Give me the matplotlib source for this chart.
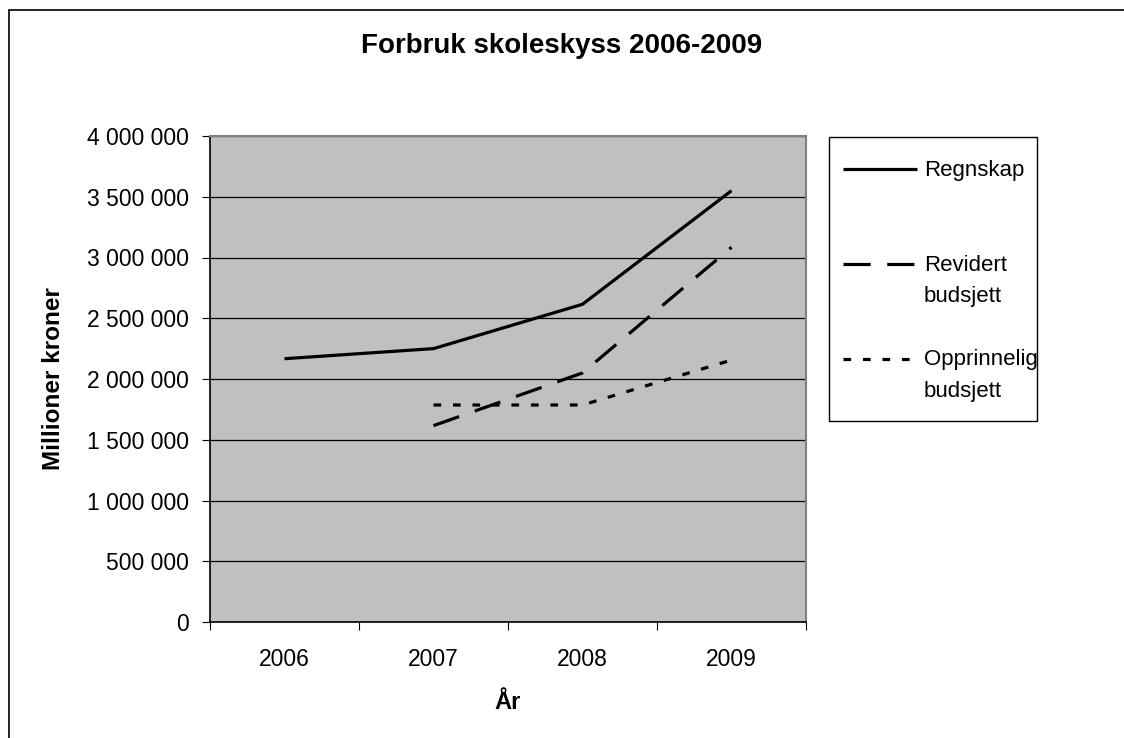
import matplotlib
matplotlib.use("Agg")
import matplotlib.pyplot as plt
from matplotlib.patches import Rectangle
from matplotlib.ticker import FuncFormatter, FixedLocator

plt.rcParams['font.family'] = ['Liberation Sans', 'DejaVu Sans']

# data
years = ['2006', '2007', '2008', '2009']
regnskap = [2167000, 2250000, 2615000, 3550000]
revidert = [None, 1616000, 2050000, 3084000]
opprinnelig = [None, 1786000, 1786000, 2156000]
labels = ['Regnskap\n', 'Revidert\nbudsjett', 'Opprinnelig\nbudsjett']


def thousands(v, pos):
    return f'{int(v):,}'.replace(',', ' ')


def pts(vals):
    xs = [i for i, v in enumerate(vals) if v is not None]
    ys = [v for v in vals if v is not None]
    return xs, ys


W, H = 1124, 738
fig = plt.figure(figsize=(W / 100, H / 100), dpi=100)
ax = fig.add_axes([210 / W, 1 - 622 / H, 596 / W, 486 / H])
ax.set_facecolor('#c0c0c0')

lw = 2.3
l1, = ax.plot(*pts(regnskap), color='black', lw=lw, solid_capstyle='butt')
l2, = ax.plot(*pts(revidert), color='black', lw=lw, dashes=(8.5, 5.2),
              dash_capstyle='butt')
l3, = ax.plot(*pts(opprinnelig), color='black', lw=lw, dashes=(2.4, 3.7),
              dash_capstyle='butt')

ax.set_xlim(-0.5, len(years) - 0.5)
ax.set_ylim(0, 4000000)
ax.yaxis.set_major_locator(FixedLocator(range(0, 4000001, 500000)))
ax.yaxis.set_major_formatter(FuncFormatter(thousands))
ax.grid(axis='y', color='black', lw=0.9)
ax.set_axisbelow(True)

ax.xaxis.set_major_locator(FixedLocator([i - 0.5 for i in range(len(years) + 1)]))
ax.xaxis.set_major_formatter(FuncFormatter(lambda v, p: ''))
ax.xaxis.set_minor_locator(FixedLocator(range(len(years))))
ax.set_xticklabels(years, minor=True)
ax.tick_params(axis='x', which='minor', length=0, pad=19, labelsize=16.5)
ax.tick_params(axis='x', which='major', length=6, width=0.8, direction='out')
ax.tick_params(axis='y', length=6, width=0.8, direction='out', labelsize=16.5, pad=9)

for s in ['top', 'right']:
    ax.spines[s].set_color('#808080')
    ax.spines[s].set_linewidth(1.5)
for s in ['left', 'bottom']:
    ax.spines[s].set_color('black')
    ax.spines[s].set_linewidth(1.2)

ax.set_xlabel('År', fontsize=17, fontweight='bold', labelpad=14)
ax.set_ylabel('Millioner kroner', fontsize=17.5, fontweight='bold', labelpad=16)
fig.text(0.5, 1 - 46 / H, 'Forbruk skoleskyss 2006-2009', ha='center', va='center',
         fontsize=20, fontweight='bold')

# legend: frame drawn separately so it can sit tight against the text like Excel's
leg = ax.legend([l1, l2, l3], labels, loc='upper left',
                bbox_to_anchor=(843 / W, 1 - 160 / H), bbox_transform=fig.transFigure,
                fontsize=16, frameon=False, handlelength=3.33, handleheight=1.1,
                handletextpad=0.3, labelspacing=1.89, borderpad=0, borderaxespad=0)
for t in leg.get_texts():
    t.set_linespacing(1.67)
# put each handle level with the first line of its label
for col in leg._legend_handle_box.get_children():
    for item in col.get_children():
        item.align = 'top'

fig.patches.append(Rectangle((829 / W, 1 - 421 / H), 208 / W, 284 / H,
                             transform=fig.transFigure, fill=False,
                             edgecolor='black', lw=1.0))

# outer chart border (right and bottom edges fall outside the image)
fig.patches.append(Rectangle((9 / W, -0.05), 1.2, 1 - 10 / H + 0.05,
                             transform=fig.transFigure, fill=False,
                             edgecolor='black', lw=1.2))

fig.savefig('out.png', dpi=100)
